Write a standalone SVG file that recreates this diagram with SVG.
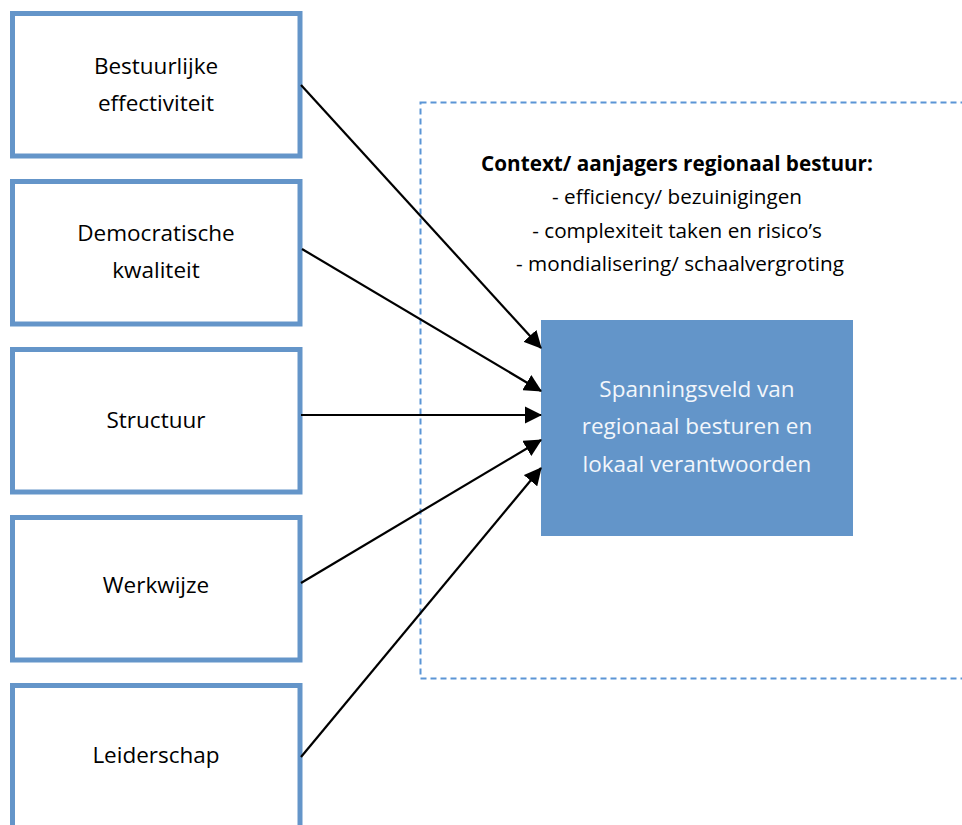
<svg xmlns="http://www.w3.org/2000/svg" width="962" height="825" viewBox="0 0 962 825">
<style>
.box{fill:#ffffff;stroke:#6495c9;stroke-width:5}
.lbl{font-family:"Open Sans","Liberation Sans",sans-serif;font-size:22.5px;fill:#000;text-anchor:middle}
.ctx{font-family:"Open Sans","Liberation Sans",sans-serif;font-size:20.7px;fill:#000;text-anchor:middle}
.inv{fill:#f2f6fb}
.conn{stroke:#000;stroke-width:2.2;fill:none;marker-end:url(#ah)}
</style>
<defs>
<marker id="ah" markerWidth="8" markerHeight="8" refX="7.5" refY="4" orient="auto" markerUnits="strokeWidth">
<path d="M0,0 L8,4 L0,8 Z" fill="#000"/>
</marker>
</defs>
<rect width="962" height="825" fill="#fff"/>
<g id="context">
<rect x="420.5" y="102.5" width="560" height="576" fill="none" stroke="#5b95d6" stroke-width="2" stroke-dasharray="6,4"/>
<text class="ctx" x="677" y="171" font-weight="bold">Context/ aanjagers regionaal bestuur:</text>
<text class="ctx" x="677" y="204">- efficiency/ bezuinigingen</text>
<text class="ctx" x="677" y="238">- complexiteit taken en risico’s</text>
<text class="ctx" x="680" y="271">- mondialisering/ schaalvergroting</text>
</g>
<g id="n1"><rect class="box" x="12.5" y="13.5" width="287.5" height="142.5"/>
<text class="lbl" x="156" y="74">Bestuurlijke</text><text class="lbl" x="156" y="111">effectiviteit</text></g>
<g id="n2"><rect class="box" x="12.5" y="181.5" width="287.5" height="142.5"/>
<text class="lbl" x="156" y="241">Democratische</text><text class="lbl" x="156" y="278">kwaliteit</text></g>
<g id="n3"><rect class="box" x="12.5" y="349.5" width="287.5" height="142.5"/>
<text class="lbl" x="156" y="428">Structuur</text></g>
<g id="n4"><rect class="box" x="12.5" y="517.5" width="287.5" height="142.5"/>
<text class="lbl" x="156" y="593">Werkwijze</text></g>
<g id="n5"><rect class="box" x="12.5" y="685.5" width="287.5" height="160"/>
<text class="lbl" x="156" y="763">Leiderschap</text></g>
<g id="center"><rect x="541" y="320" width="312" height="216" fill="#6395c9"/>
<text class="lbl inv" x="697" y="397">Spanningsveld van</text>
<text class="lbl inv" x="697" y="434">regionaal besturen en</text>
<text class="lbl inv" x="697" y="472">lokaal verantwoorden</text></g>
<g id="connectors">
<line class="conn" x1="301" y1="85" x2="541" y2="348"/>
<line class="conn" x1="302" y1="249" x2="541" y2="391"/>
<line class="conn" x1="301" y1="415" x2="541" y2="415"/>
<line class="conn" x1="301" y1="583" x2="541" y2="440"/>
<line class="conn" x1="301" y1="757" x2="541" y2="468"/>
</g>
</svg>
